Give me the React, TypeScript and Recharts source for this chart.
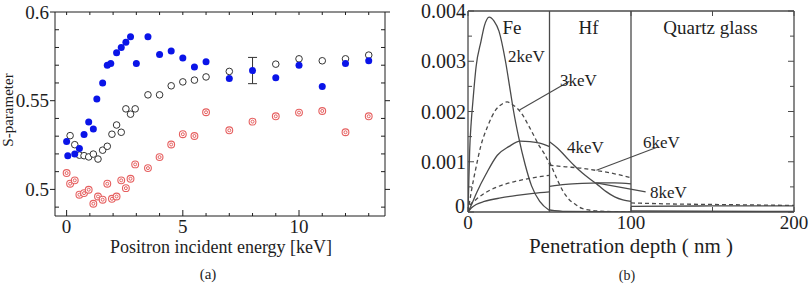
import React from 'react';
import { ScatterChart, Scatter, LineChart, Line, XAxis, YAxis, ErrorBar, ReferenceLine } from 'recharts';

const SERIF = "'Liberation Serif', 'Times New Roman', 'DejaVu Serif', serif";
const INK = '#1e1e1e';
const CURVE = '#4a4a4a';

// ---- (a) S-parameter vs positron incident energy ----
const energyBlue = [0, 0.05, 0.35, 0.55, 0.75, 0.95, 1.15, 1.3, 1.55, 1.75, 1.9, 2.15, 2.35, 2.55, 2.75, 3.0, 3.5, 4, 4.5, 5, 5.5, 6, 7, 8, 9, 10, 11, 12, 13];
const sBlue = [0.527, 0.519, 0.52, 0.523, 0.531, 0.538, 0.534, 0.551, 0.56, 0.57, 0.571, 0.577, 0.58, 0.583, 0.586, 0.571, 0.586, 0.576, 0.578, 0.574, 0.569, 0.572, 0.5625, 0.567, 0.563, 0.57, 0.558, 0.571, 0.5725];
const sBlueErr = [null, null, null, null, null, null, null, null, null, null, null, null, null, null, null, null, null, null, null, null, null, null, null, 0.0074, null, null, null, null, null];

const energyOpen = [0.15, 0.35, 0.55, 0.75, 0.95, 1.15, 1.35, 1.55, 1.75, 1.95, 2.15, 2.35, 2.55, 2.75, 2.95, 3.5, 4, 4.5, 5, 5.5, 6, 7, 9, 10, 11, 12, 13];
const sOpen = [0.5303, 0.5252, 0.5193, 0.519, 0.5183, 0.5199, 0.5171, 0.5221, 0.5243, 0.5311, 0.5363, 0.5322, 0.5454, 0.5424, 0.5454, 0.5533, 0.5533, 0.5584, 0.5606, 0.5616, 0.5634, 0.5665, 0.5706, 0.5736, 0.5725, 0.5736, 0.5757];

const energyRed = [0, 0.15, 0.35, 0.55, 0.75, 0.95, 1.15, 1.35, 1.55, 1.75, 1.95, 2.15, 2.35, 2.55, 2.75, 2.95, 3.5, 4, 4.5, 5, 5.5, 6, 7, 8, 9, 10, 11, 12, 13];
const sRed = [0.5092, 0.5032, 0.5051, 0.497, 0.4979, 0.4998, 0.4919, 0.496, 0.4942, 0.5032, 0.4947, 0.496, 0.5051, 0.5007, 0.506, 0.5141, 0.512, 0.5182, 0.5253, 0.5311, 0.5301, 0.5435, 0.5333, 0.5382, 0.5412, 0.5433, 0.5442, 0.5322, 0.5412];

const energyTicks = [0, 1, 2, 3, 4, 5, 6, 7, 8, 9, 10, 11, 12, 13];
const sTicks = [0.49, 0.5, 0.51, 0.52, 0.53, 0.54, 0.55, 0.56, 0.57, 0.58, 0.59, 0.6];

// ---- (b) implantation profiles vs penetration depth, split per layer ----
const fe2 = [[0, 0], [0.5, 0.0006], [1, 0.0012], [2, 0.0018], [3, 0.0022], [5, 0.0029], [8, 0.0034], [10, 0.0037], [13, 0.00388], [16, 0.0038], [19, 0.0036], [23, 0.003], [26, 0.0024], [28, 0.002], [31, 0.0015], [35, 0.00095], [39, 0.00052], [44, 0.00021], [50, 0.00003]];
const hf2 = [[50, 0.00004], [60, 0.00001], [100, 0]];

const fe3 = [[0, 0], [2, 0.0004], [5, 0.0009], [8, 0.00133], [12, 0.0017], [17, 0.00203], [21, 0.00215], [24, 0.00219], [28, 0.00212], [32, 0.002], [38, 0.00167], [44, 0.0013], [47, 0.00115], [50, 0.00095]];
const hf3 = [[50, 0.001], [52, 0.00085], [55, 0.00063], [58, 0.00043], [62, 0.00025], [66, 0.00015], [70, 0.00007], [80, 0.00002], [100, 0]];

const fe4 = [[0, 0], [1.5, 0.0001], [5.5, 0.0004], [11, 0.00075], [18, 0.00113], [25, 0.0013], [32, 0.00141], [38, 0.0014], [44, 0.00137], [50, 0.0013]];
const hf4 = [[50, 0.0014], [55, 0.00127], [60, 0.0011], [65, 0.00093], [70, 0.00078], [75, 0.00065], [80, 0.00053], [85, 0.0004], [90, 0.0003], [95, 0.00024], [100, 0.00021]];
const qz4 = [[100, 0.00002], [200, 0.00001]];

const fe6 = [[0, 0], [1, 0.00012], [5, 0.00025], [10, 0.00037], [18, 0.0005], [28, 0.0006], [38, 0.00067], [50, 0.00073]];
const hf6 = [[50, 0.00093], [60, 0.0009], [70, 0.00087], [80, 0.00082], [90, 0.00076], [100, 0.00068]];
const qz6 = [[100, 0.00018], [125, 0.00016], [150, 0.00015], [175, 0.00014], [200, 0.00013]];

const fe8 = [[0, 0], [2, 0.00008], [5, 0.00015], [10, 0.00021], [20, 0.00028], [30, 0.00033], [40, 0.00037], [50, 0.0004]];
const hf8 = [[50, 0.00051], [60, 0.00055], [70, 0.00057], [80, 0.00058], [90, 0.00058], [100, 0.00056]];
const qz8 = [[100, 0.00011], [150, 0.00012], [200, 0.00012]];

const depthTicks = [0, 50, 100, 150, 200];
const depthLabels = [0, 100, 200];
const yieldTicks = [0, 0.0005, 0.001, 0.0015, 0.002, 0.0025, 0.003, 0.0035, 0.004];

const profiles = [
  { key: 'fe2', pts: fe2, dashed: false },
  { key: 'hf2', pts: hf2, dashed: false },
  { key: 'fe3', pts: fe3, dashed: true },
  { key: 'hf3', pts: hf3, dashed: true },
  { key: 'fe4', pts: fe4, dashed: false },
  { key: 'hf4', pts: hf4, dashed: false },
  { key: 'qz4', pts: qz4, dashed: false },
  { key: 'fe6', pts: fe6, dashed: true },
  { key: 'hf6', pts: hf6, dashed: true },
  { key: 'qz6', pts: qz6, dashed: true },
  { key: 'fe8', pts: fe8, dashed: false },
  { key: 'hf8', pts: hf8, dashed: false },
  { key: 'qz8', pts: qz8, dashed: false },
];

const blueData = energyBlue.map((x, i) => ({ x, y: sBlue[i], err: sBlueErr[i] }));
const openData = energyOpen.map((x, i) => ({ x, y: sOpen[i] }));
const redData = energyRed.map((x, i) => ({ x, y: sRed[i] }));
const toXY = (arr) => arr.map(([d, v]) => ({ d, v }));

// marker shapes
const BlueDot = (p) => <circle cx={p.cx} cy={p.cy} r={3.5} fill="#0a14e8" />;
const OpenDot = (p) => <circle cx={p.cx} cy={p.cy} r={3.3} fill="#fff" stroke="#333" strokeWidth={1} />;
const RedDot = (p) => (
  <g>
    <circle cx={p.cx} cy={p.cy} r={3.4} fill="#fff" stroke="#e66060" strokeWidth={1.1} />
    <circle cx={p.cx} cy={p.cy} r={1.5} fill="none" stroke="#e66060" strokeWidth={1} />
  </g>
);
const NoDot = () => <g />;

const isMajorS = (v) => Math.round(v * 1000) % 50 === 0;
const isMajorYield = (v) => Math.round(v * 10000) % 10 === 0;

const font = (size) => ({ fontFamily: SERIF, fontSize: size });

// ticks for panel (a)
const aBottomTick = (p) => {
  const v = p.payload.value;
  const major = v % 5 === 0;
  return (
    <g>
      <line x1={p.x} x2={p.x} y1={p.y} y2={p.y - (major ? 6 : 3)} stroke={INK} />
      {major && (
        <text x={p.x} y={p.y + 10} textAnchor="middle" dominantBaseline="central" style={font(19)} fill={INK}>{v}</text>
      )}
    </g>
  );
};
const aTopTick = (p) => <line x1={p.x} x2={p.x} y1={p.y} y2={p.y + 3} stroke={INK} />;
const aLeftTick = (p) => {
  const v = p.payload.value;
  const major = isMajorS(v);
  return (
    <g>
      <line x1={major ? p.x - 5 : p.x} x2={major ? p.x : p.x + 4} y1={p.y} y2={p.y} stroke={INK} />
      {major && (
        <text x={p.x - 6} y={p.y} textAnchor="end" dominantBaseline="central" style={font(19)} fill={INK}>{Number(v.toFixed(2))}</text>
      )}
    </g>
  );
};
const aRightTick = (p) => {
  const major = isMajorS(p.payload.value);
  return <line x1={major ? p.x : p.x - 4} x2={major ? p.x + 5 : p.x} y1={p.y} y2={p.y} stroke={INK} />;
};

// ticks for panel (b)
const bBottomTick = (p) => {
  const v = p.payload.value;
  return (
    <g>
      <line x1={p.x} x2={p.x} y1={p.y} y2={p.y - 5} stroke={CURVE} />
      {depthLabels.includes(v) && (
        <text x={p.x} y={p.y + 10} textAnchor="middle" dominantBaseline="central" style={font(19)} fill={INK}>{v}</text>
      )}
    </g>
  );
};
const bTopTick = (p) => <line x1={p.x} x2={p.x} y1={p.y} y2={p.y + 5} stroke={CURVE} />;
const bLeftTick = (p) => {
  const v = p.payload.value;
  const major = isMajorYield(v);
  return (
    <g>
      <line x1={p.x} x2={p.x + (major ? 6 : 4)} y1={p.y} y2={p.y} stroke={CURVE} />
      {major && (
        <text x={v === 0 ? p.x - 3 : p.x - 2} y={v === 0 ? p.y - 6 : p.y} textAnchor="end" dominantBaseline="central" style={font(20)} fill={INK}>{Number(v.toFixed(3))}</text>
      )}
    </g>
  );
};
const bRightTick = (p) => {
  const major = isMajorYield(p.payload.value);
  return <line x1={p.x - (major ? 6 : 4)} x2={p.x} y1={p.y} y2={p.y} stroke={CURVE} />;
};

// axes get a 1px band (a zero-size axis is not drawn); margins are trimmed to match
const axisA = { stroke: INK };
const axisB = { stroke: CURVE, strokeWidth: 1.3 };

function PanelA() {
  return (
    <ScatterChart width={400} height={284} margin={{ top: 11, right: 14, bottom: 67, left: 54 }}>
      <XAxis dataKey="x" type="number" domain={[-0.5, 13.7]} allowDataOverflow ticks={energyTicks} interval={0}
        height={1} tickSize={0} tickMargin={0} tickLine={false} tick={aBottomTick} axisLine={axisA} />
      <XAxis xAxisId="top" orientation="top" dataKey="x" type="number" domain={[-0.5, 13.7]} allowDataOverflow ticks={energyTicks} interval={0}
        height={1} tickSize={0} tickMargin={0} tickLine={false} tick={aTopTick} axisLine={axisA} />
      <YAxis dataKey="y" type="number" domain={[0.485, 0.6]} allowDataOverflow ticks={sTicks} interval={0}
        width={1} tickSize={0} tickMargin={0} tickLine={false} tick={aLeftTick} axisLine={axisA} />
      <YAxis yAxisId="right" orientation="right" dataKey="y" type="number" domain={[0.485, 0.6]} allowDataOverflow ticks={sTicks} interval={0}
        width={1} tickSize={0} tickMargin={0} tickLine={false} tick={aRightTick} axisLine={axisA} />
      <Scatter xAxisId="top" yAxisId="right" data={blueData} shape={NoDot} isAnimationActive={false} />
      <Scatter data={redData} shape={RedDot} isAnimationActive={false} />
      <Scatter data={openData} shape={OpenDot} isAnimationActive={false} />
      <Scatter data={blueData} shape={BlueDot} isAnimationActive={false}>
        <ErrorBar dataKey="err" direction="y" width={4.5} stroke="#333" strokeWidth={1} />
      </Scatter>
    </ScatterChart>
  );
}

function PanelB() {
  return (
    <LineChart width={401} height={284} margin={{ top: 10, right: 16, bottom: 71, left: 57 }}>
      <XAxis dataKey="d" type="number" domain={[0, 200]} allowDataOverflow ticks={depthTicks} interval={0}
        height={1} tickSize={0} tickMargin={0} tickLine={false} tick={bBottomTick} axisLine={axisB} />
      <XAxis xAxisId="top" orientation="top" dataKey="d" type="number" domain={[0, 200]} allowDataOverflow ticks={depthTicks} interval={0}
        height={1} tickSize={0} tickMargin={0} tickLine={false} tick={bTopTick} axisLine={axisB} />
      <YAxis type="number" domain={[0, 0.004]} allowDataOverflow ticks={yieldTicks} interval={0}
        width={1} tickSize={0} tickMargin={0} tickLine={false} tick={bLeftTick} axisLine={axisB} />
      <YAxis yAxisId="right" orientation="right" type="number" domain={[0, 0.004]} allowDataOverflow ticks={yieldTicks} interval={0}
        width={1} tickSize={0} tickMargin={0} tickLine={false} tick={bRightTick} axisLine={axisB} />
      <Line xAxisId="top" yAxisId="right" data={toXY(qz8)} dataKey="v" stroke="none" dot={false} activeDot={false} isAnimationActive={false} />
      <ReferenceLine x={50} stroke={CURVE} strokeWidth={1.3} />
      <ReferenceLine x={100} stroke={CURVE} strokeWidth={1.3} />
      {profiles.map((c) => (
        <Line key={c.key} data={toXY(c.pts)} dataKey="v" type="monotone" stroke={CURVE} strokeWidth={1.3}
          strokeDasharray={c.dashed ? '4 3' : undefined} dot={false} activeDot={false} isAnimationActive={false} />
      ))}
      {/* leader lines from curves to their energy labels */}
      <ReferenceLine segment={[{ x: 31.6, y: 0.00203 }, { x: 62.2, y: 0.0026 }]} stroke={CURVE} strokeWidth={1.1} />
      <ReferenceLine segment={[{ x: 78.8, y: 0.00083 }, { x: 116, y: 0.00129 }]} stroke={CURVE} strokeWidth={1.1} />
      <ReferenceLine segment={[{ x: 78.6, y: 0.00058 }, { x: 109, y: 0.0004 }]} stroke={CURVE} strokeWidth={1.1} />
    </LineChart>
  );
}

export default function App() {
  const T = (props) => <text fill={INK} dominantBaseline="central" {...props} style={font(props.size)} />;
  return (
    <div style={{ position: 'absolute', left: 0, top: 0, width: 811, height: 284, background: '#fff', overflow: 'hidden' }}>
      <div style={{ position: 'absolute', left: 0, top: 0 }}><PanelA /></div>
      <div style={{ position: 'absolute', left: 410, top: 0 }}><PanelB /></div>
      <svg width={811} height={284} style={{ position: 'absolute', left: 0, top: 0, pointerEvents: 'none' }}>
        <T x={8} y={110} transform="rotate(-90 8 110)" textAnchor="middle" size={15}>S-parameter</T>
        <T x={221} y={247} textAnchor="middle" size={18}>Positron incident energy [keV]</T>
        <T x={208} y={274} textAnchor="middle" size={15}>(a)</T>

        <T x={512} y={27} textAnchor="middle" size={19}>Fe</T>
        <T x={588.5} y={27} textAnchor="middle" size={19}>Hf</T>
        <T x={710.5} y={27} textAnchor="middle" size={19}>Quartz glass</T>
        <T x={508} y={56} size={17}>2keV</T>
        <T x={560} y={80} size={17}>3keV</T>
        <T x={567} y={147} size={17}>4keV</T>
        <T x={643} y={142} size={17}>6keV</T>
        <T x={650} y={192} size={17}>8keV</T>
        <T x={631} y={246} textAnchor="middle" size={21}>Penetration depth ( nm )</T>
        <T x={627} y={275} textAnchor="middle" size={14}>(b)</T>
      </svg>
    </div>
  );
}
